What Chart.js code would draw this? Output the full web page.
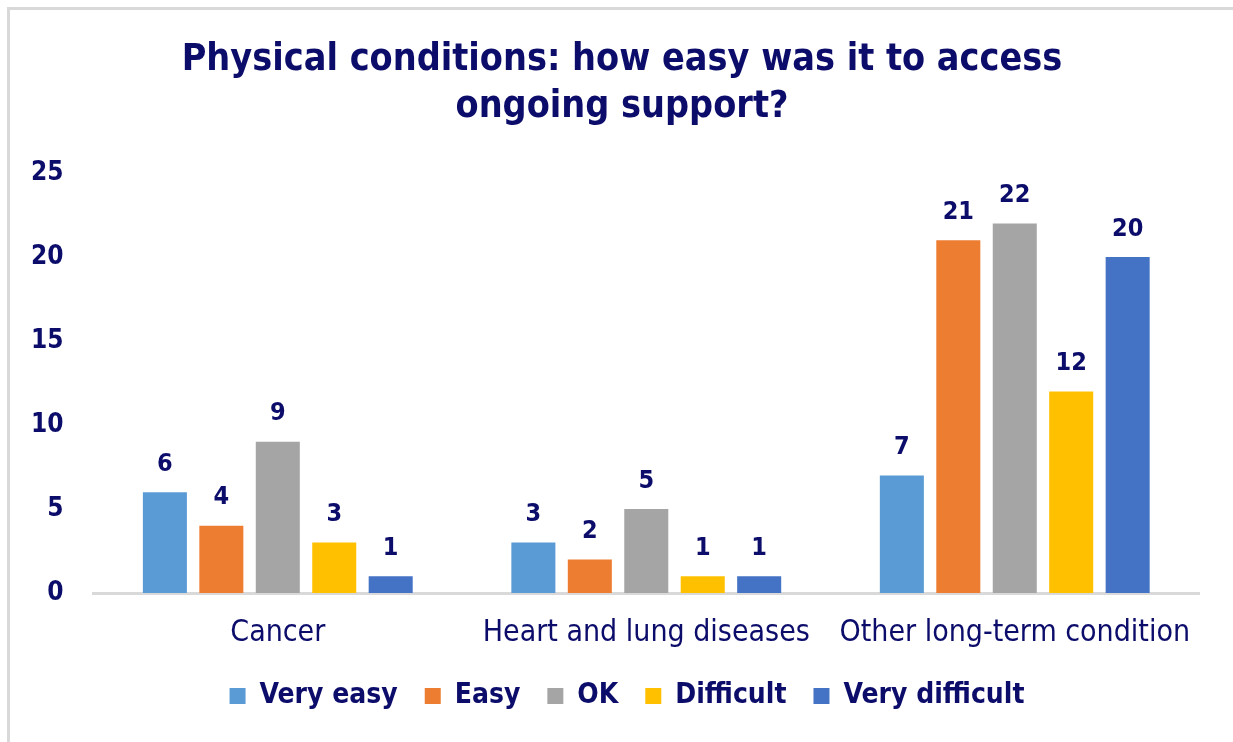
<!DOCTYPE html>
<html><head><meta charset="utf-8">
<script src="https://cdn.jsdelivr.net/npm/chart.js@4"></script>
<style>
html,body{margin:0;padding:0;background:#fff;}
#wrap{position:relative;width:1233px;height:742px;}
</style></head>
<body><div id="wrap"><canvas id="c"></canvas></div>
<script>
const categories = ["Cancer", "Heart and lung diseases", "Other long-term condition"];
const seriesNames = ["Very easy", "Easy", "OK", "Difficult", "Very difficult"];
const veryEasy = [6, 3, 7];
const easy = [4, 2, 21];
const ok = [9, 5, 22];
const difficult = [3, 1, 12];
const veryDifficult = [1, 1, 20];
const yTicks = [0, 5, 10, 15, 20, 25];
const colors = ["#5B9BD5", "#ED7D31", "#A5A5A5", "#FFC000", "#4472C4"];
const navy = "#0c0c6b";
const FONT = "'DejaVu Sans Condensed', 'DejaVu Sans', sans-serif";

const seriesValues = [veryEasy, easy, ok, difficult, veryDifficult];

const frame = {
  id: 'frame',
  beforeDraw(chart) {
    const ctx = chart.ctx;
    ctx.save();
    ctx.fillStyle = '#fff';
    ctx.fillRect(0, 0, chart.width, chart.height);
    ctx.strokeStyle = '#d9d9d9';
    ctx.lineWidth = 3;
    ctx.strokeRect(8.5, 8.5, chart.width + 10, chart.height + 10);
    ctx.restore();
  }
};

// shift title and legend centring to match the reference
const recentre = {
  id: 'recentre',
  afterLayout(chart) {
    if (chart.titleBlock) chart.titleBlock.left = 45;
    if (chart.legend) chart.legend.left = 55;
  }
};

const valueLabels = {
  id: 'valueLabels',
  afterDatasetsDraw(chart) {
    const ctx = chart.ctx;
    ctx.save();
    ctx.font = "bold 25px " + FONT;
    ctx.fillStyle = navy;
    ctx.textAlign = 'center';
    ctx.textBaseline = 'middle';
    chart.data.datasets.forEach((ds, i) => {
      const meta = chart.getDatasetMeta(i);
      meta.data.forEach((bar, j) => {
        ctx.fillText(String(ds.data[j]), bar.x, bar.y - 28);
      });
    });
    ctx.restore();
  }
};

new Chart(document.getElementById('c'), {
  type: 'bar',
  data: {
    labels: categories,
    datasets: seriesNames.map((n, i) => ({
      label: n,
      data: seriesValues[i],
      backgroundColor: colors[i],
      borderWidth: 0,
      categoryPercentage: 0.766,
      barPercentage: 0.78
    }))
  },
  options: {
    responsive: true,
    maintainAspectRatio: false,
    animation: false,
    layout: { padding: { left: 1, right: 34, top: 20, bottom: 22 } },
    plugins: {
      title: {
        display: true,
        text: ["Physical conditions: how easy was it to access", "ongoing support?"],
        color: navy,
        font: { family: FONT, size: 37.4, weight: 'bold', lineHeight: 1.257 },
        padding: { top: 17, bottom: 42 }
      },
      legend: {
        position: 'bottom',
        labels: {
          color: navy,
          font: { family: FONT, size: 28, weight: 'bold' },
          boxWidth: 16, boxHeight: 16,
          padding: 27
        }
      },
      tooltip: { enabled: false }
    },
    scales: {
      x: {
        grid: { display: false, drawTicks: false },
        border: { display: true, color: '#d9d9d9', width: 3 },
        ticks: { color: navy, font: { family: FONT, size: 30 }, padding: 22 },
        afterFit(scale) { scale.height -= 18; }
      },
      y: {
        min: 0, max: 25,
        afterBuildTicks(axis) { axis.ticks = yTicks.map(v => ({ value: v })); },
        grid: { display: false, drawTicks: false },
        border: { display: false },
        ticks: { color: navy, font: { family: FONT, size: 26, weight: 'bold' }, padding: 30 }
      }
    }
  },
  plugins: [frame, recentre, valueLabels]
});
</script></body></html>
